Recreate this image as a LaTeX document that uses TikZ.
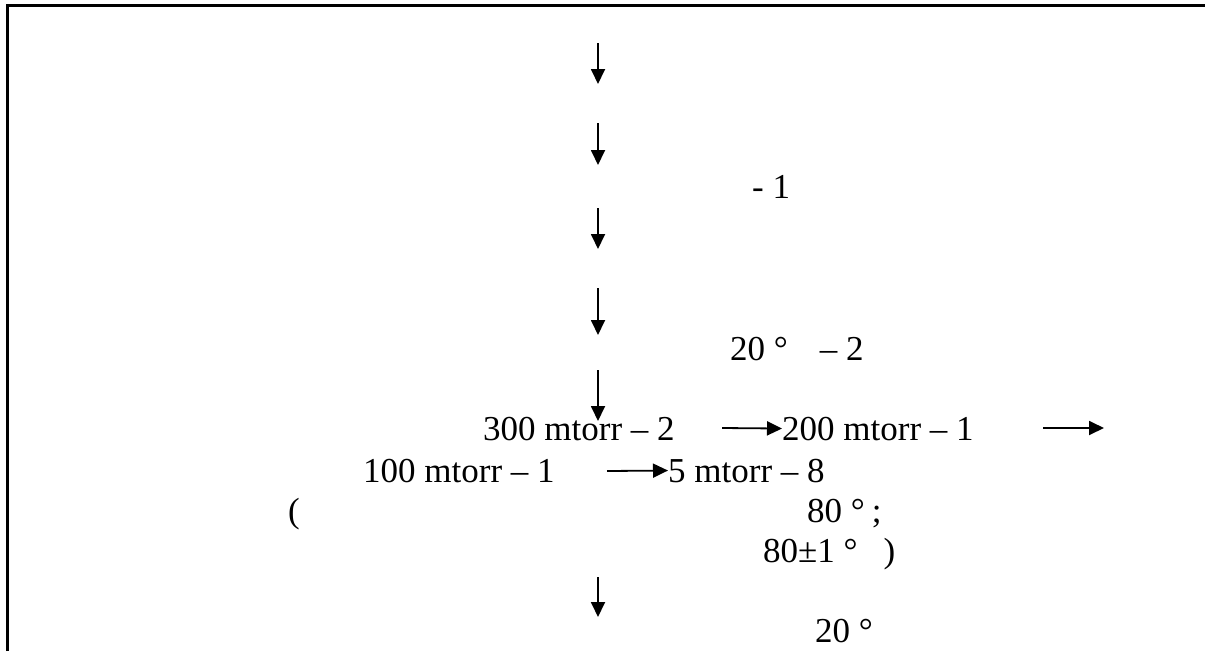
\documentclass[tikz,border=0pt]{standalone}
\usepackage{fontspec}
\setmainfont{Liberation Serif}
\usetikzlibrary{arrows.meta}
\begin{document}
\begin{tikzpicture}[x=1pt,y=-1pt,
  lbl/.style={anchor=base west,inner sep=0pt,font=\fontsize{35}{42}\selectfont},
  arr/.style={line width=1.8pt,-{Triangle[length=15pt,width=14pt]}},
  frame/.style={line width=3pt}]
\useasboundingbox (0,0) rectangle (1205,651);
% frame
\coordinate (fl) at (7,651);
\coordinate (ftl) at (7,5);
\coordinate (fr) at (1205,5);
\draw[frame] (fl) -- (ftl) -- (fr);
% vertical arrows
\coordinate (a1s) at (598,43);  \coordinate (a1e) at (598,84);
\coordinate (a2s) at (598,123); \coordinate (a2e) at (598,165);
\coordinate (a3s) at (598,208); \coordinate (a3e) at (598,249);
\coordinate (a4s) at (598,288); \coordinate (a4e) at (598,335);
\coordinate (a5s) at (598,370); \coordinate (a5e) at (598,421);
\coordinate (a6s) at (598,577); \coordinate (a6e) at (598,617);
\draw[arr] (a1s) -- (a1e);
\draw[arr] (a2s) -- (a2e);
\draw[arr] (a3s) -- (a3e);
\draw[arr] (a4s) -- (a4e);
\draw[arr] (a5s) -- (a5e);
\draw[arr] (a6s) -- (a6e);
% texts
\node[lbl] (t1) at (752,198) {- 1};
\node[lbl] (t2) at (730,360) {20 °\hspace{32pt}– 2};
\node[lbl] (t300) at (483,440) {300 mtorr – 2};
\node[lbl] (t200) at (782,440) {200 mtorr – 1};
\node[lbl] (t100) at (363,482) {100 mtorr – 1};
\node[lbl] (t5) at (668,482) {5 mtorr – 8};
\node[lbl] (tp) at (288,522) {(};
\node[lbl] (t80) at (807,522) {80 °\hspace{7pt};};
\node[lbl] (t801) at (763,562) {80±1 °\hspace{26pt})};
\node[lbl] (t20) at (815,642) {20 °};
% horizontal arrows
\coordinate (h1s) at (722,428);
\coordinate (h2s) at (1043,428); \coordinate (h2e) at (1104,428);
\coordinate (h3s) at (607,471);
\draw[arr] (h1s) -- (t200.west);
\draw[arr] (h2s) -- (h2e);
\draw[arr] (h3s) -- (t5.west);
\end{tikzpicture}
\end{document}
